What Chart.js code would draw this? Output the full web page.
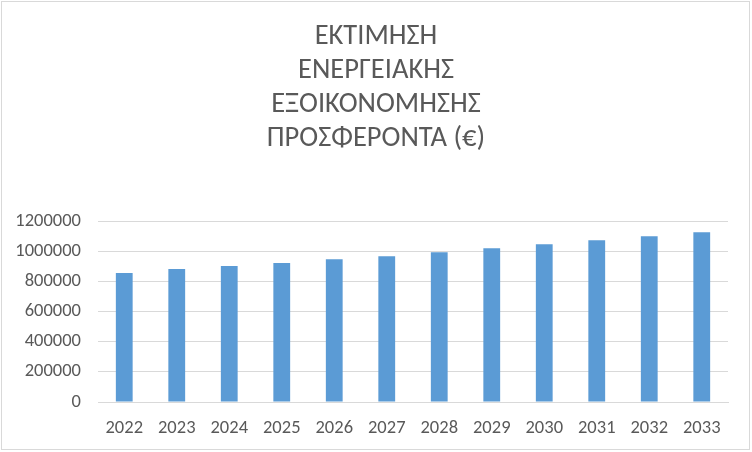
<!DOCTYPE html>
<html>
<head>
<meta charset="utf-8">
<script src="https://cdn.jsdelivr.net/npm/chart.js@4/dist/chart.umd.min.js"></script>
<style>
  body { margin: 0; background: #fff; }
  #wrap { width: 752px; height: 452px; }
</style>
</head>
<body>
<div id="wrap"><canvas id="chartSavings" width="752" height="452"></canvas></div>
<script>
// values
const years = ['2022', '2023', '2024', '2025', '2026', '2027', '2028', '2029', '2030', '2031', '2032', '2033'];
const savings = [855000, 881000, 901000, 921000, 947000, 967000, 993000, 1020000, 1046000, 1073000, 1099000, 1126000];
const titleLines = ['ΕΚΤΙΜΗΣΗ', 'ΕΝΕΡΓΕΙΑΚΗΣ', 'ΕΞΟΙΚΟΝΟΜΗΣΗΣ', 'ΠΡΟΣΦΕΡΟΝΤΑ (€)'];

const fontFam = 'Carlito, "Liberation Sans", sans-serif';
const grey = '#595959';

// thin frame like the office chart box
const frame = {
    id: 'frame',
    beforeDraw(chart) {
        const c = chart.ctx;
        c.save();
        c.fillStyle = '#fff';
        c.fillRect(0, 0, chart.width, chart.height);
        c.strokeStyle = '#d9d9d9';
        c.lineWidth = 1;
        c.strokeRect(1.5, 1.5, chart.width - 4, chart.height - 4);
        c.restore();
    }
};

const ctx = document.getElementById('chartSavings').getContext('2d');
const myChart = new Chart(ctx, {
    type: 'bar',
    data: {
        labels: years,
        datasets: [{
            label: 'Εξοικονόμηση',
            data: savings,
            backgroundColor: '#5b9bd5',
            borderWidth: 0,
            barPercentage: 0.32,
            categoryPercentage: 1
        }]
    },
    options: {
        responsive: false,
        animation: false,
        layout: { padding: 0 },
        plugins: {
            legend: { display: false },
            tooltip: { enabled: false },
            title: {
                display: true,
                text: titleLines,
                color: grey,
                font: { family: fontFam, size: 28.5, weight: 'normal', lineHeight: 34 / 28.5 },
                padding: { top: 20, bottom: 65 }
            }
        },
        scales: {
            x: {
                grid: { display: false, drawTicks: false },
                border: { display: true, color: '#d9d9d9', width: 1 },
                ticks: { color: grey, font: { family: fontFam, size: 18.5 }, padding: 15, maxRotation: 0 },
                afterFit(scale) { scale.height = 50; }
            },
            y: {
                min: 0,
                max: 1200000,
                ticks: {
                    stepSize: 200000, color: grey, font: { family: fontFam, size: 18.5 }, padding: 17,
                    callback: v => String(v)
                },
                grid: { color: '#d9d9d9', lineWidth: 1, drawTicks: false },
                border: { display: false },
                afterFit(scale) { scale.width = 98; }
            },
            // empty strip on the right so the title stays centred on the whole box
            yRight: {
                position: 'right',
                grid: { display: false, drawTicks: false },
                ticks: { display: false },
                border: { display: false },
                afterFit(scale) { scale.width = 24; }
            }
        }
    },
    plugins: [frame]
});
</script>
</body>
</html>
